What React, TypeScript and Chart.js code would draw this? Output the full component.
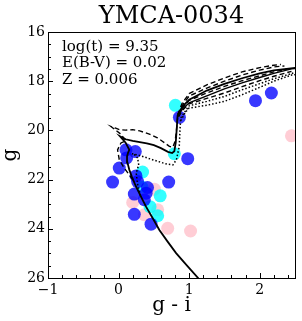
import React, { useEffect, useRef } from "react";
import { Chart, registerables } from "chart.js";

Chart.register(...registerables);

const titleText = "YMCA-0034";
const xAxisLabel = "g - i";
const yAxisLabel = "g";
const annotations = ["log(t) = 9.35", "E(B-V) = 0.02", "Z = 0.006"];

const xTicks = [-1, 0, 1, 2];
const xTickLabels = ["\u22121", "0", "1", "2"];
const yTicks = [16, 18, 20, 22, 24, 26];
const yTickLabels = ["16", "18", "20", "22", "24", "26"];

// Observed stars
const blueX = [0.105, 0.237, 0.114, 0.01, -0.085, 0.247, 0.27, 0.41, 0.39, 0.223, 0.365, 0.71, 0.98, 0.223, 0.46, 0.862, 1.94, 2.165];
const blueY = [20.79, 20.86, 21.12, 21.53, 22.10, 21.85, 22.08, 22.32, 22.55, 22.59, 22.82, 22.10, 21.15, 23.41, 23.81, 19.47, 18.79, 18.48];
const cyanX = [0.805, 0.79, 0.34, 0.59, 0.446, 0.554, 0.33];
const cyanY = [18.98, 20.95, 21.69, 22.66, 23.10, 23.47, 22.3];
const pinkX = [0.507, 0.2, 0.554, 0.365, 0.696, 1.02, 2.45];
const pinkY = [22.39, 22.93, 23.23, 23.43, 23.98, 24.09, 20.22];

// Isochrones: solid
const solidMainX = [1.2, 1.127, 0.97, 0.815, 0.69, 0.578, 0.48, 0.389, 0.31, 0.247, 0.19, 0.152, 0.125, 0.12, 0.135, 0.152, 0.1, 0.02, 0.1, 0.2, 0.3, 0.4, 0.5, 0.6, 0.7, 0.76, 0.79, 0.81, 0.825, 0.836, 0.9, 1.0, 1.25, 1.5, 1.75, 2.0, 2.2, 2.5, 2.6];
const solidMainY = [26.3, 26.0, 25.5, 24.99, 24.5, 24.05, 23.55, 23.1, 22.65, 22.28, 21.9, 21.6, 21.3, 21.06, 20.9, 20.79, 20.5, 20.24, 20.36, 20.43, 20.48, 20.53, 20.6, 20.72, 20.87, 20.92, 20.85, 20.5, 19.9, 19.4, 19.05, 18.75, 18.38, 18.11, 17.88, 17.68, 17.56, 17.46, 17.45];
const solidBranchX = [0.84, 0.9, 1.0, 1.25, 1.5, 1.75, 2.0, 2.2, 2.45, 2.6];
const solidBranchY = [19.4, 19.15, 18.88, 18.6, 18.31, 18.07, 17.85, 17.68, 17.5, 17.45];

// Isochrones: dashed
const dashedMainX = [0.2, 0.15, 0.08, 0.01, -0.014, 0.034, 0.105, 0.03, -0.108, -0.05, 0.01, 0.1, 0.2, 0.3, 0.436, 0.55, 0.625, 0.72, 0.77, 0.8, 0.815, 0.83, 0.84, 0.9, 1.0, 1.25, 1.5, 1.75, 2.0, 2.2, 2.3];
const dashedMainY = [22.0, 21.8, 21.53, 21.19, 20.79, 20.51, 20.42, 20.15, 19.84, 19.9, 19.97, 19.99, 19.97, 20.02, 20.15, 20.3, 20.45, 20.65, 20.68, 20.45, 20.15, 19.7, 19.35, 18.9, 18.5, 18.15, 17.87, 17.62, 17.45, 17.35, 17.32];
const dashedBranchAX = [0.84, 0.9, 1.0, 1.25, 1.5, 1.75, 2.0, 2.2, 2.35];
const dashedBranchAY = [19.35, 19.0, 18.6, 18.28, 18.0, 17.75, 17.55, 17.42, 17.38];
const dashedBranchBX = [0.84, 0.9, 1.0, 1.25, 1.5, 1.75, 2.0, 2.2, 2.4];
const dashedBranchBY = [19.4, 19.1, 18.78, 18.48, 18.21, 17.98, 17.78, 17.62, 17.5];
const dashedBranchCX = [0.85, 0.9, 1.0, 1.25, 1.5, 1.75, 2.0, 2.2, 2.45];
const dashedBranchCY = [19.45, 19.2, 18.92, 18.7, 18.48, 18.22, 17.98, 17.8, 17.6];

// Isochrones: dotted
const dottedMainX = [0.31, 0.27, 0.25, 0.285, 0.27, 0.223, 0.19, 0.3, 0.48, 0.67, 0.77, 0.82, 0.86, 0.87, 0.88, 0.95, 1.0, 1.25, 1.5, 1.75, 2.0, 2.2, 2.5, 2.6];
const dottedMainY = [22.65, 22.2, 21.74, 21.4, 21.12, 20.99, 20.95, 21.02, 21.19, 21.36, 21.4, 21.19, 20.65, 20.0, 19.5, 19.2, 19.0, 18.82, 18.62, 18.35, 18.1, 17.9, 17.65, 17.62];
const dottedBranchX = [0.88, 0.95, 1.0, 1.25, 1.5, 1.75, 2.0, 2.2, 2.45, 2.6];
const dottedBranchY = [19.6, 19.25, 19.09, 18.98, 18.82, 18.55, 18.25, 18.0, 17.75, 17.7];

const FONT = "'DejaVu Serif', 'Liberation Serif', serif";

const pts = (xs: number[], ys: number[]) => xs.map((x, i) => ({ x, y: ys[i] }));

const lineSet = (xs: number[], ys: number[], dash: number[], width: number) => ({
  type: "scatter" as const,
  data: pts(xs, ys),
  showLine: true,
  borderColor: "#000",
  borderWidth: width,
  borderDash: dash,
  pointRadius: 0,
  tension: 0,
  fill: false,
  order: 0,
});

const pointSet = (xs: number[], ys: number[], color: string, order: number) => ({
  type: "scatter" as const,
  data: pts(xs, ys),
  backgroundColor: color,
  borderWidth: 0,
  pointRadius: 6.5,
  showLine: false,
  order,
});

const decorPlugin = {
  id: "decor",
  afterDraw(chart: any) {
    const { ctx, chartArea: a, scales } = chart;
    const xs = scales.x;
    const ys = scales.y;
    ctx.save();
    // frame
    ctx.strokeStyle = "#000";
    ctx.lineWidth = 1;
    ctx.strokeRect(Math.round(a.left) + 0.5, Math.round(a.top) + 0.5, Math.round(a.right - a.left), Math.round(a.bottom - a.top));
    // ticks inward
    ctx.beginPath();
    for (let v = -1; v <= 2.5001; v += 0.2) {
      const px = Math.round(xs.getPixelForValue(v)) + 0.5;
      const major = Math.abs(v - Math.round(v)) < 1e-6;
      const len = major ? 5 : 3;
      ctx.moveTo(px, a.bottom);
      ctx.lineTo(px, a.bottom - len);
    }
    for (let v = 16; v <= 26.0001; v += 0.5) {
      const py = Math.round(ys.getPixelForValue(v)) + 0.5;
      const major = Math.abs(v / 2 - Math.round(v / 2)) < 1e-6;
      const len = major ? 5 : 3;
      ctx.moveTo(a.left, py);
      ctx.lineTo(a.left + len, py);
    }
    ctx.stroke();
    // texts
    ctx.fillStyle = "#000";
    ctx.textAlign = "center";
    ctx.textBaseline = "middle";
    const cx = (a.left + a.right) / 2;
    ctx.font = `24px ${FONT}`;
    ctx.fillText(titleText, cx, 17);
    ctx.font = `20px ${FONT}`;
    ctx.fillText(xAxisLabel, cx, 306);
    ctx.save();
    ctx.translate(11, (a.top + a.bottom) / 2);
    ctx.rotate(-Math.PI / 2);
    ctx.fillText(yAxisLabel, 0, 0);
    ctx.restore();
    ctx.textAlign = "left";
    ctx.font = `15px ${FONT}`;
    annotations.forEach((t, i) => ctx.fillText(t, 62, 47 + i * 16.5));
    ctx.restore();
  },
};

export default function App() {
  const ref = useRef<HTMLCanvasElement | null>(null);
  useEffect(() => {
    document.body.style.margin = "0";
    const canvas = ref.current!;
    const chart = new Chart(canvas, {
      type: "scatter",
      data: {
        datasets: [
          lineSet(solidMainX, solidMainY, [], 1.8),
          lineSet(solidBranchX, solidBranchY, [], 1.4),
          lineSet(dashedMainX, dashedMainY, [5, 3], 1.4),
          lineSet(dashedBranchAX, dashedBranchAY, [5, 3], 1.4),
          lineSet(dashedBranchBX, dashedBranchBY, [5, 3], 1.4),
          lineSet(dashedBranchCX, dashedBranchCY, [5, 3], 1.4),
          lineSet(dottedMainX, dottedMainY, [1.5, 2], 1.5),
          lineSet(dottedBranchX, dottedBranchY, [1.5, 2], 1.5),
          pointSet(blueX, blueY, "rgba(0,0,255,0.78)", 1),
          pointSet(cyanX, cyanY, "rgba(0,255,255,0.8)", 2),
          pointSet(pinkX, pinkY, "rgba(255,192,203,0.8)", 3),
        ] as any,
      },
      options: {
        animation: false,
        responsive: false,
        layout: { padding: { top: 32, right: 7, left: 0, bottom: 0 } },
        plugins: { legend: { display: false }, tooltip: { enabled: false }, title: { display: false } },
        scales: {
          x: {
            type: "linear",
            min: -1,
            max: 2.5,
            grid: { display: false, drawTicks: false },
            border: { display: false },
            afterFit: (axis: any) => { axis.height = 43; },
            afterBuildTicks: (axis: any) => { axis.ticks = xTicks.map((v) => ({ value: v })); },
            ticks: {
              padding: 4,
              color: "#000",
              font: { family: FONT, size: 14 },
              maxRotation: 0,
              autoSkip: false,
              callback: (_v: any, i: number) => xTickLabels[i],
            },
          },
          y: {
            type: "linear",
            reverse: true,
            min: 16,
            max: 26,
            grid: { display: false, drawTicks: false },
            border: { display: false },
            afterFit: (axis: any) => { axis.width = 48; },
            afterBuildTicks: (axis: any) => { axis.ticks = yTicks.map((v) => ({ value: v })); },
            ticks: {
              padding: 3,
              color: "#000",
              font: { family: FONT, size: 14 },
              autoSkip: false,
              callback: (_v: any, i: number) => yTickLabels[i],
            },
          },
        },
      },
      plugins: [decorPlugin],
    });
    return () => chart.destroy();
  }, []);
  return (
    <div style={{ position: "absolute", left: 0, top: 0, width: 302, height: 321 }}>
      <canvas ref={ref} width={302} height={321} style={{ width: 302, height: 321 }} />
    </div>
  );
}
